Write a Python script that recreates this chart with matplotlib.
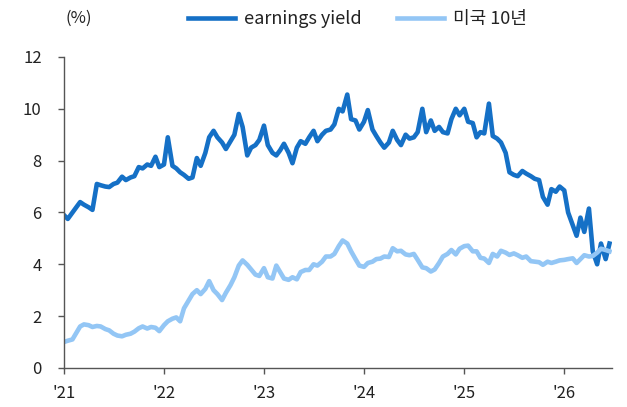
import numpy as np
import pandas as pd
import matplotlib
matplotlib.use("Agg")
import matplotlib.pyplot as plt
import matplotlib.dates as mdates

plt.rcParams['font.family'] = ['Noto Sans CJK KR', 'DejaVu Sans']

# 반월 간격 (매월 1일, 15일)
dates = pd.date_range('2021-01-01', periods=132, freq='SMS')

earnings_yield = [
    5.9, 5.75, 6.0, 6.2, 6.4, 6.3, 6.2, 6.1, 7.1, 7.05, 7.0, 6.98,
    7.1, 7.15, 7.38, 7.25, 7.35, 7.4, 7.75, 7.7, 7.85, 7.8, 8.15, 7.75,
    7.85, 8.9, 7.8, 7.7, 7.55, 7.45, 7.3, 7.35, 8.1, 7.8, 8.3, 8.9,
    9.15, 8.9, 8.7, 8.45, 8.75, 9.0, 9.8, 9.3, 8.2, 8.5, 8.6, 8.8,
    9.35, 8.6, 8.3, 8.2, 8.4, 8.65, 8.3, 7.9, 8.5, 8.75, 8.65, 8.9,
    9.15, 8.75, 9.0, 9.15, 9.2, 9.4, 10.0, 9.9, 10.55, 9.6, 9.55, 9.2,
    9.5, 9.95, 9.2, 8.95, 8.7, 8.5, 8.7, 9.15, 8.8, 8.6, 9.0, 8.85,
    8.9, 9.1, 10.0, 9.1, 9.55, 9.15, 9.3, 9.1, 9.05, 9.6, 10.0, 9.75,
    10.0, 9.5, 9.45, 8.9, 9.1, 9.05, 10.2, 8.95, 8.85, 8.7, 8.3, 7.55,
    7.45, 7.4, 7.6, 7.5, 7.4, 7.3, 7.25, 6.6, 6.3, 6.9, 6.8, 7.0,
    6.85, 6.0, 5.5, 5.1, 5.8, 5.25, 6.15, 4.5, 4.0, 4.8, 4.2, 4.8,
]

us_10y = [
    1.0, 1.05, 1.1, 1.35, 1.6, 1.68, 1.65, 1.58, 1.62, 1.6, 1.5, 1.45,
    1.32, 1.25, 1.22, 1.28, 1.32, 1.4, 1.53, 1.6, 1.52, 1.58, 1.55, 1.42,
    1.65, 1.8, 1.9, 1.95, 1.8, 2.3, 2.6, 2.85, 3.0, 2.85, 3.05, 3.35,
    3.0, 2.85, 2.62, 2.9, 3.2, 3.5, 3.95, 4.15, 3.98, 3.8, 3.6, 3.55,
    3.85, 3.5, 3.45, 3.95, 3.7, 3.45, 3.4, 3.5, 3.42, 3.7, 3.78, 3.78,
    4.0, 3.95, 4.1, 4.3, 4.3, 4.4, 4.7, 4.92, 4.8, 4.5, 4.2, 3.95,
    3.9, 4.05, 4.1, 4.2, 4.22, 4.3, 4.28, 4.62, 4.5, 4.52, 4.38, 4.35,
    4.4, 4.17, 3.88, 3.85, 3.72, 3.8, 4.05, 4.3, 4.4, 4.55, 4.38, 4.6,
    4.7, 4.72, 4.5, 4.5, 4.25, 4.22, 4.05, 4.4, 4.3, 4.52, 4.45, 4.36,
    4.42, 4.35, 4.25, 4.3, 4.12, 4.1, 4.08, 3.98, 4.1, 4.05, 4.1, 4.15,
    4.17, 4.2, 4.23, 4.05, 4.2, 4.35, 4.3, 4.32, 4.45, 4.6, 4.55, 4.5,
]

dark_blue = '#1570c6'
light_blue = '#93c6f5'

fig = plt.figure(figsize=(6.27, 4.07), dpi=100)
ax = fig.add_axes([0.102, 0.096, 0.874, 0.764])

ax.plot(dates, earnings_yield, color=dark_blue, lw=3.3, label='earnings yield',
        solid_joinstyle='round')
ax.plot(dates, us_10y, color=light_blue, lw=3.3, label='미국 10년',
        solid_joinstyle='round')

ax.set_ylim(0, 12)
ax.set_yticks(np.arange(0, 13, 2))
ax.set_xlim(pd.Timestamp('2021-01-01'), pd.Timestamp('2026-06-24'))
ax.xaxis.set_major_locator(mdates.YearLocator())
ax.xaxis.set_major_formatter(mdates.DateFormatter("'%y"))

for s in ['top', 'right']:
    ax.spines[s].set_visible(False)
for s in ['left', 'bottom']:
    ax.spines[s].set_color('#555555')
    ax.spines[s].set_linewidth(1.0)
ax.tick_params(axis='both', direction='out', length=4, width=1, color='#555555',
               labelsize=12, labelcolor='#222222')
ax.tick_params(axis='y', pad=12)
ax.tick_params(axis='x', pad=8)

fig.text(0.105, 0.955, '(%)', fontsize=12, color='#222222', ha='left', va='center')

fig.legend(loc='center', bbox_to_anchor=(0.57, 0.953), ncol=2, frameon=False,
           fontsize=13, handlelength=2.6, columnspacing=2.0, handletextpad=0.5,
           labelcolor='#222222')

fig.savefig('out.png', dpi=100)
